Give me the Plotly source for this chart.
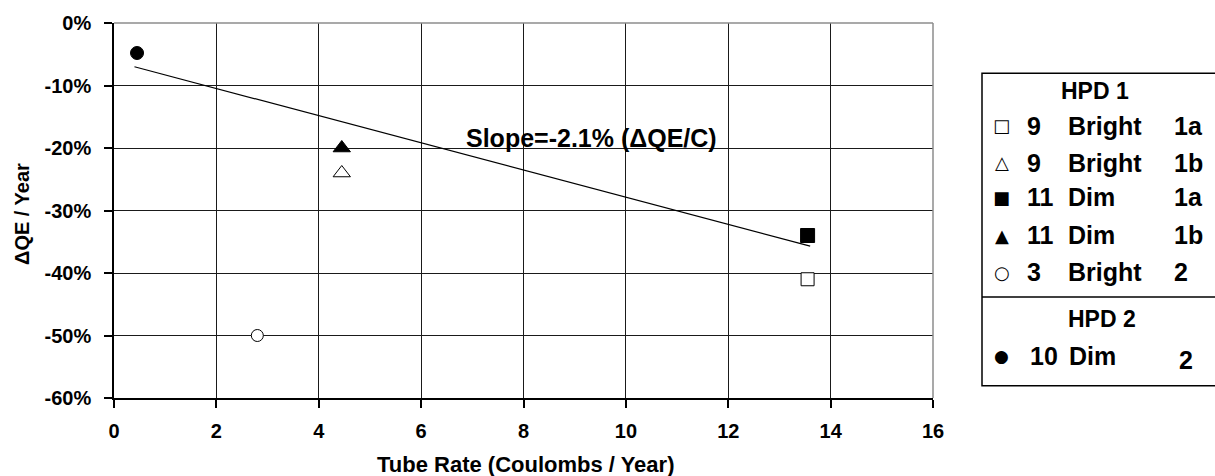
import plotly.graph_objects as go

# ---- data ----
tube_rate_9b_1a = [13.55]
dqe_9b_1a = [-41.0]
tube_rate_9b_1b = [4.45]
dqe_9b_1b = [-24.0]
tube_rate_11d_1a = [13.55]
dqe_11d_1a = [-34.0]
tube_rate_11d_1b = [4.45]
dqe_11d_1b = [-20.0]
tube_rate_3b_2 = [2.8]
dqe_3b_2 = [-50.0]
tube_rate_10d_2 = [0.45]
dqe_10d_2 = [-4.8]
trend_x = [0.4, 13.6]
trend_y = [-7.0, -35.7]

x_ticks = [0, 2, 4, 6, 8, 10, 12, 14, 16]
y_ticks = [-60, -50, -40, -30, -20, -10, 0]

legend_rows = [
    ("□", "9", "Bright", "1a"),
    ("△", "9", "Bright", "1b"),
    ("■", "11", "Dim", "1a"),
    ("▲", "11", "Dim", "1b"),
    ("○", "3", "Bright", "2"),
]
legend_rows2 = [("●", "10", "Dim", "2")]

FONT = "Liberation Sans, Arial, sans-serif"
LEG = 25

fig = go.Figure()
fig.add_trace(go.Scatter(x=trend_x, y=trend_y, mode="lines",
                         line=dict(color="black", width=1.2), hoverinfo="skip"))

def pts(x, y, symbol, size, fill):
    fig.add_trace(go.Scatter(x=x, y=y, mode="markers",
                             marker=dict(symbol=symbol, size=size, color=fill,
                                         line=dict(color="black", width=1))))

pts(tube_rate_9b_1a, dqe_9b_1a, "square", 13, "white")
pts(tube_rate_9b_1b, dqe_9b_1b, "triangle-up", 15, "white")
pts(tube_rate_11d_1a, dqe_11d_1a, "square", 14, "black")
pts(tube_rate_11d_1b, dqe_11d_1b, "triangle-up", 15, "black")
pts(tube_rate_3b_2, dqe_3b_2, "circle", 12, "white")
pts(tube_rate_10d_2, dqe_10d_2, "circle", 13, "black")

W, H = 1215, 476
ml, mr, mt, mb = 114, 282, 19, 78
pw, ph = W - ml - mr, H - mt - mb

def px(xp):
    return (xp - ml) / pw

def py(yp):
    return (H - mb - yp) / ph

annotations = [
    dict(x=px(464), y=py(135), xref="paper", yref="paper", xanchor="left", yanchor="middle",
         text="<b>Slope=-2.1% (ΔQE/C)</b>", showarrow=False,
         font=dict(family=FONT, size=25, color="black")),
    dict(x=px(1095), y=py(88), xref="paper", yref="paper", xanchor="center", yanchor="middle",
         text="<b>HPD 1</b>", showarrow=False, font=dict(family=FONT, size=23, color="black")),
    dict(x=px(1102), y=py(318), xref="paper", yref="paper", xanchor="center", yanchor="middle",
         text="<b>HPD 2</b>", showarrow=False, font=dict(family=FONT, size=23, color="black")),
    dict(x=px(22), y=py(212), xref="paper", yref="paper", xanchor="center", yanchor="middle",
         text="<b>ΔQE / Year</b>", textangle=-90, showarrow=False,
         font=dict(family=FONT, size=20, color="black")),
    dict(x=px(525), y=py(465), xref="paper", yref="paper", xanchor="center", yanchor="middle",
         text="<b>Tube Rate (Coulombs / Year)</b>", showarrow=False,
         font=dict(family=FONT, size=22, color="black")),
]

row_y = [122.7, 160, 195, 233.3, 270.7]
for (sym, num, word, suf), yy in zip(legend_rows, row_y):
    annotations += [
        dict(x=px(1002), y=py(yy), xref="paper", yref="paper", xanchor="center", yanchor="middle",
             text=sym, showarrow=False, font=dict(family="DejaVu Sans", size=18, color="black")),
        dict(x=px(1025), y=py(yy), xref="paper", yref="paper", xanchor="left", yanchor="middle",
             text=f"<b>{num}</b>", showarrow=False, font=dict(family=FONT, size=LEG, color="black")),
        dict(x=px(1066), y=py(yy), xref="paper", yref="paper", xanchor="left", yanchor="middle",
             text=f"<b>{word}</b>", showarrow=False, font=dict(family=FONT, size=LEG, color="black")),
        dict(x=px(1172), y=py(yy), xref="paper", yref="paper", xanchor="left", yanchor="middle",
             text=f"<b>{suf}</b>", showarrow=False, font=dict(family=FONT, size=LEG, color="black")),
    ]
for (sym, num, word, suf) in legend_rows2:
    annotations += [
        dict(x=px(1002), y=py(356), xref="paper", yref="paper", xanchor="center", yanchor="middle",
             text=sym, showarrow=False, font=dict(family="DejaVu Sans", size=17, color="black")),
        dict(x=px(1028), y=py(356), xref="paper", yref="paper", xanchor="left", yanchor="middle",
             text=f"<b>{num}</b>", showarrow=False, font=dict(family=FONT, size=LEG, color="black")),
        dict(x=px(1067), y=py(356), xref="paper", yref="paper", xanchor="left", yanchor="middle",
             text=f"<b>{word}</b>", showarrow=False, font=dict(family=FONT, size=LEG, color="black")),
        dict(x=px(1177), y=py(360), xref="paper", yref="paper", xanchor="left", yanchor="middle",
             text=f"<b>{suf}</b>", showarrow=False, font=dict(family=FONT, size=LEG, color="black")),
    ]

shapes = [
    dict(type="line", xref="paper", yref="paper", x0=0, x1=1, y0=1, y1=1,
         line=dict(color="#8c8c8c", width=1.5), layer="above"),
    dict(type="line", xref="paper", yref="paper", x0=1, x1=1, y0=0, y1=1,
         line=dict(color="#8c8c8c", width=1.5), layer="above"),
    dict(type="rect", xref="paper", yref="paper", x0=px(982), x1=px(1218), y0=py(385.7), y1=py(69.7),
         line=dict(color="black", width=1.5)),
    dict(type="line", xref="paper", yref="paper", x0=px(982), x1=px(1218), y0=py(296), y1=py(296),
         line=dict(color="black", width=1.5)),
]

fig.update_layout(
    width=W, height=H,
    margin=dict(l=ml, r=mr, t=mt, b=mb, pad=0),
    paper_bgcolor="white", plot_bgcolor="white",
    showlegend=False,
    font=dict(family=FONT, color="black"),
    annotations=annotations,
    shapes=shapes,
    xaxis=dict(range=[0, 16], tickvals=x_ticks, ticktext=[f"<b>{v}</b>" for v in x_ticks],
               showgrid=True, gridcolor="#1a1a1a", gridwidth=1.2,
               showline=True, linecolor="black", linewidth=1.5, zeroline=False,
               ticks="outside", ticklen=8, tickcolor="black", tickwidth=1.5,
               ticklabelstandoff=6,
               tickfont=dict(family=FONT, size=20, color="black")),
    yaxis=dict(range=[-60, 0], tickvals=y_ticks, ticktext=[f"<b>{v}%</b>" for v in y_ticks],
               showgrid=True, gridcolor="#1a1a1a", gridwidth=1.2,
               showline=True, linecolor="black", linewidth=1.5, zeroline=False,
               ticks="outside", ticklen=8, tickcolor="black", tickwidth=1.5,
               ticklabelstandoff=9,
               tickfont=dict(family=FONT, size=20, color="black")),
)

fig.write_html("out.html")
